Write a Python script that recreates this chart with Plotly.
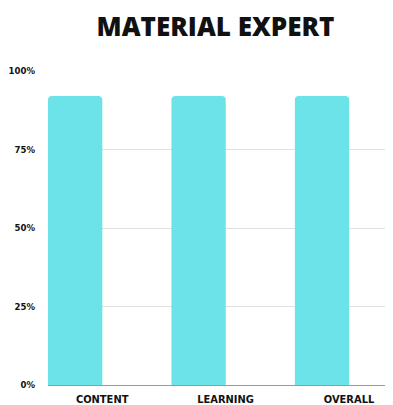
import plotly.graph_objects as go

categories = ["CONTENT", "LEARNING", "OVERALL"]
values = [0.92, 0.92, 0.92]
y_ticks = [0, 0.25, 0.5, 0.75, 1.0]
y_tick_labels = ["0%", "25%", "50%", "75%", "100%"]
title_text = "MATERIAL EXPERT"

# The page body has an 8px default margin, so the figure is sized to fit inside it.
fig = go.Figure(
    go.Bar(
        x=categories,
        y=values,
        width=0.44,
        marker=dict(color="#6ce3e8", cornerradius=4, line=dict(width=0)),
        hoverinfo="skip",
    )
)

fig.update_layout(
    width=385,
    height=397,
    margin=dict(l=40, r=0, t=63, b=20, autoexpand=False),
    plot_bgcolor="white",
    paper_bgcolor="white",
    showlegend=False,
    title=dict(
        text=title_text,
        x=0.539,
        xanchor="center",
        y=1 - 18.5 / 397,
        yanchor="middle",
        yref="container",
        font=dict(family="Open Sans", size=26, color="#111111", weight=800),
    ),
)

fig.update_xaxes(
    type="category",
    automargin=False,
    range=[-0.22, 2.575],
    showgrid=False,
    showline=True,
    linecolor="#9a9a9a",
    linewidth=1,
    ticks="",
    ticklabelshift=27,
    ticklabelstandoff=4,
    tickfont=dict(family="DejaVu Sans Condensed, DejaVu Sans", size=11, color="#111111", weight="bold"),
)

fig.update_yaxes(
    automargin=False,
    range=[0, 1.0],
    tickvals=y_ticks,
    ticktext=y_tick_labels,
    showgrid=True,
    gridcolor="#e0e0e0",
    gridwidth=1,
    zeroline=False,
    showline=False,
    ticks="",
    ticklabelstandoff=12,
    tickfont=dict(family="DejaVu Sans Condensed, DejaVu Sans", size=9.5, color="#111111", weight="bold"),
)

fig.write_html("out.html")
